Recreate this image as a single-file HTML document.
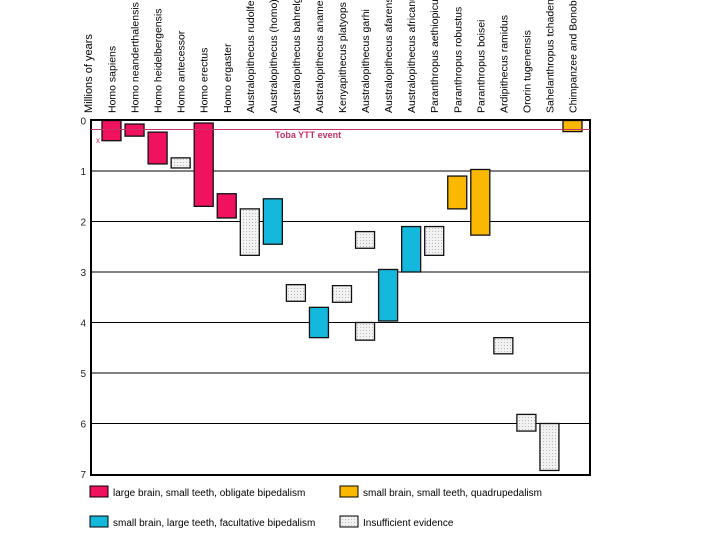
<!DOCTYPE html>
<html><head><meta charset="utf-8"><style>
body{margin:0;background:#fff;}
svg{display:block;font-family:"Liberation Sans",sans-serif;}
</style></head><body>
<svg id="chart" width="720" height="540" viewBox="0 0 720 540">
<defs>
<pattern id="dots" width="3" height="3" patternUnits="userSpaceOnUse"><rect width="3" height="3" fill="#f2f2f2"/><rect width="1" height="1" fill="#bbb"/></pattern>
</defs>
<g id="grid"></g>
<g id="bars"></g>
<g id="labels"></g>
<rect x="91" y="120" width="499" height="355" fill="none" stroke="#000" stroke-width="2"/>
<line x1="91" x2="590" y1="129.5" y2="129.5" stroke="#c8306a" stroke-width="1"/>
<text x="275" y="138" font-size="9" font-weight="bold" fill="#c8306a">Toba YTT event</text>
<text x="96" y="143" font-size="8" fill="#c8306a">x</text>
<text transform="translate(92,113) rotate(-90)" font-size="11">Millions of years</text>
<g>
<rect x="90" y="486" width="18" height="11" fill="#f0115f" stroke="#000"/>
<text x="113" y="496" font-size="10">large brain, small teeth, obligate bipedalism</text>
<rect x="340" y="486" width="18" height="11" fill="#fbb800" stroke="#000"/>
<text x="363" y="496" font-size="10">small brain, small teeth, quadrupedalism</text>
<rect x="90" y="516" width="18" height="11" fill="#14b8dc" stroke="#000"/>
<text x="113" y="526" font-size="10">small brain, large teeth, facultative bipedalism</text>
<rect x="340" y="516" width="18" height="11" fill="url(#dots)" stroke="#000"/>
<text x="363" y="526" font-size="10">Insufficient evidence</text>
</g>
</svg>
<script>
const species=["Homo sapiens","Homo neanderthalensis","Homo heidelbergensis","Homo antecessor","Homo erectus","Homo ergaster","Australopithecus rudolfensis","Australopithecus (homo) habilis","Australopithecus bahrelghazali","Australopithecus anamensis","Kenyapithecus platyops","Australopithecus garhi","Australopithecus afarensis","Australopithecus africanus","Paranthropus aethiopicus","Paranthropus robustus","Paranthropus boisei","Ardipithecus ramidus","Ororin tugenensis","Sahelanthropus tchadensis","Chimpanzee and Bonobo"];
const colIndex=[0,1,2,3,4,5,6,7,8,9,10,11,11,12,13,14,15,16,17,18,19,20];
const startMya=[0,0.07,0.23,0.74,0.05,1.45,1.75,1.55,3.25,3.7,3.27,2.2,4.0,2.95,2.1,2.1,1.1,0.97,4.3,5.82,6.0,0];
const endMya=[0.4,0.31,0.86,0.94,1.7,1.93,2.67,2.45,3.58,4.3,3.6,2.53,4.35,3.97,3.0,2.67,1.75,2.27,4.62,6.15,6.93,0.22];
const group=["pink","pink","pink","gray","pink","pink","gray","blue","gray","blue","gray","gray","gray","blue","blue","gray","orange","orange","gray","gray","gray","orange"];
const yTicks=[0,1,2,3,4,5,6,7];
const NS="http://www.w3.org/2000/svg";
const fills={pink:"#f0115f",blue:"#14b8dc",orange:"#fbb800",gray:"url(#dots)"};
const yScale=v=>120.5+50.5*v;
const xCenter=i=>111.5+23.05*i;
function mk(tag,attrs,parent){const e=document.createElementNS(NS,tag);for(const k in attrs)e.setAttribute(k,attrs[k]);parent.appendChild(e);return e;}
const grid=document.getElementById('grid'),bars=document.getElementById('bars'),labels=document.getElementById('labels');
yTicks.forEach(t=>{
  if(t>0&&t<7){const l=mk('line',{x1:91,x2:590,y1:yScale(t),y2:yScale(t),stroke:'#000','stroke-width':1},grid);
  
  }
  const tx=mk('text',{x:86,y:yScale(t)+4,'font-size':10,'text-anchor':'end',fill:'#222'},labels);
  tx.textContent=t;
  
  
});
species.forEach((s,i)=>{
  const t=mk('text',{transform:`translate(${xCenter(i)+4},113) rotate(-90)`,'font-size':10.5},labels);
  t.textContent=s;
  
  
});
startMya.forEach((s,k)=>{
  const y1=yScale(s),y2=yScale(endMya[k]);
  const r=mk('rect',{x:xCenter(colIndex[k])-9.5,y:y1,width:19,height:y2-y1,fill:fills[group[k]],stroke:'#111','stroke-width':1.3},bars);
  
  
});
</script>
</body></html>
